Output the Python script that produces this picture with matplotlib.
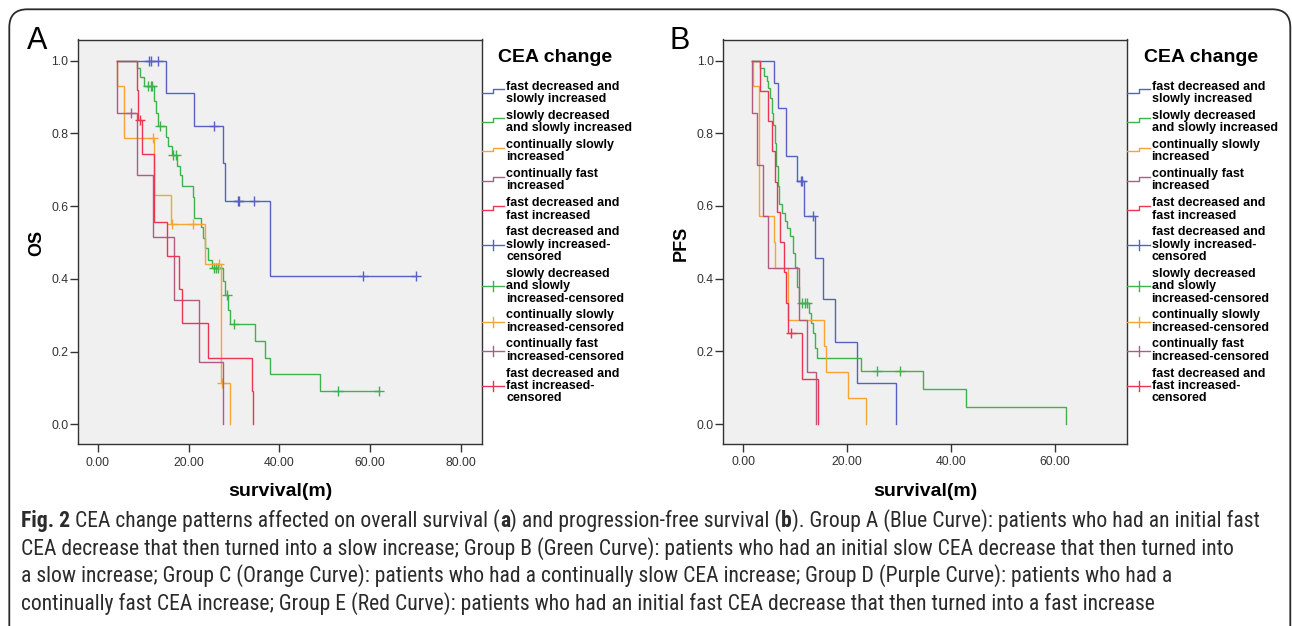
import numpy as np
import matplotlib
matplotlib.use('Agg')
import matplotlib.pyplot as plt
from matplotlib import font_manager
from matplotlib.lines import Line2D
from matplotlib.patches import FancyBboxPatch
from matplotlib.transforms import IdentityTransform

plt.rcParams['font.family'] = ['Liberation Sans', 'DejaVu Sans']

# ---------------- data ----------------
group_labels = [
    ["fast decreased and", "slowly increased"],
    ["slowly decreased", "and slowly increased"],
    ["continually slowly", "increased"],
    ["continually fast", "increased"],
    ["fast decreased and", "fast increased"],
]
censor_labels = [
    ["fast decreased and", "slowly increased-", "censored"],
    ["slowly decreased", "and slowly", "increased-censored"],
    ["continually slowly", "increased-censored"],
    ["continually fast", "increased-censored"],
    ["fast decreased and", "fast increased-", "censored"],
]
colors = ['#5661C2', '#3DB24F', '#F6A534', '#B25A80', '#EC3552']

x_ticks_os = [0, 20, 40, 60, 80]
x_ticks_pfs = [0, 20, 40, 60]
y_ticks = [0.0, 0.2, 0.4, 0.6, 0.8, 1.0]

# Panel A : OS  (start time, event times, survival after event, censored times)
os_start = [4.1, 4.1, 4.1, 4.1, 4.1]
os_blue_t = [15.1, 21.2, 27.5, 28.0, 37.9]
os_blue_s = [0.912, 0.820, 0.718, 0.615, 0.409]
os_blue_c = [11.3, 11.6, 13.3, 25.6, 30.9, 31.2, 34.3, 58.5, 70.2]

os_green_t = [8.7, 9.3, 10.2, 12.3, 12.8, 13.3, 14.9, 15.5, 16.4, 17.5, 18.1, 18.6,
              21.0, 21.2, 22.8, 23.2, 23.7, 24.3, 25.1, 27.5, 28.0, 28.7, 29.2,
              34.7, 36.9, 37.9, 48.9]
os_green_s = [0.979, 0.954, 0.929, 0.89, 0.855, 0.82, 0.791, 0.766, 0.74, 0.709, 0.686, 0.654,
              0.626, 0.566, 0.543, 0.511, 0.484, 0.452, 0.430, 0.393, 0.356, 0.314, 0.276,
              0.23, 0.183, 0.137, 0.092]
os_green_c = [11.1, 11.6, 11.9, 13.7, 16.6, 17.1, 25.6, 26.1, 26.5, 28.4, 30.0, 53.0, 62.0]

os_orange_t = [4.1, 5.7, 12.4, 16.1, 23.6, 27.2, 29.2]
os_orange_s = [0.929, 0.786, 0.631, 0.55, 0.441, 0.113, 0.0]
os_orange_c = [12.2, 16.3, 21.0, 26.6, 27.3]

os_purple_t = [4.1, 8.7, 12.2, 16.8, 22.3, 27.5]
os_purple_s = [0.857, 0.686, 0.514, 0.343, 0.171, 0.0]
os_purple_c = [7.2]

os_red_t = [8.7, 8.9, 9.8, 12.4, 15.3, 17.8, 18.6, 24.2, 33.9, 34.1]
os_red_s = [0.918, 0.837, 0.742, 0.555, 0.463, 0.371, 0.278, 0.183, 0.092, 0.0]
os_red_c = [9.3]

# Panel B : PFS
pfs_start = [1.7, 1.7, 1.7, 1.7, 1.7]
pfs_blue_t = [6.0, 6.6, 8.2, 8.3, 10.3, 11.7, 13.8, 15.3, 17.7, 21.9, 29.5]
pfs_blue_s = [0.938, 0.87, 0.801, 0.737, 0.668, 0.571, 0.456, 0.343, 0.227, 0.112, 0.0]
pfs_blue_c = [11.1, 11.3, 13.5]

pfs_green_t = [3.2, 4.0, 4.5, 4.8, 5.2, 5.5, 5.8, 6.1, 6.4, 6.7, 6.9, 7.4, 8.0, 8.5,
               9.0, 9.5, 10.0, 10.4, 10.8, 12.7, 13.0, 13.5, 13.9, 14.3, 22.7, 34.7,
               43.0, 62.1]
pfs_green_s = [0.98, 0.957, 0.943, 0.925, 0.897, 0.856, 0.824, 0.773, 0.709, 0.654, 0.604,
               0.580, 0.558, 0.539, 0.516, 0.470, 0.433, 0.378, 0.332, 0.305, 0.277, 0.25,
               0.209, 0.181, 0.146, 0.096, 0.048, 0.0]
pfs_green_c = [11.25, 11.9, 12.2, 25.7, 30.2]

pfs_orange_t = [1.9, 3.0, 5.9, 6.1, 8.7, 15.6, 15.9, 20.2, 23.6]
pfs_orange_s = [0.929, 0.571, 0.5, 0.429, 0.286, 0.214, 0.143, 0.071, 0.0]
pfs_orange_c = []

pfs_purple_t = [1.7, 2.7, 3.8, 4.8, 10.8, 12.2, 14.1]
pfs_purple_s = [0.857, 0.714, 0.571, 0.429, 0.286, 0.143, 0.0]
pfs_purple_c = []

pfs_red_t = [3.2, 4.8, 5.5, 6.2, 6.5, 7.0, 7.8, 8.3, 8.6, 11.4, 14.4]
pfs_red_s = [0.917, 0.833, 0.75, 0.667, 0.583, 0.5, 0.417, 0.333, 0.25, 0.125, 0.0]
pfs_red_c = [9.1]

caption_lines = [
    [("Fig. 2", True), (" CEA change patterns affected on overall survival (", False), ("a", True),
     (") and progression-free survival (", False), ("b", True),
     ("). Group A (Blue Curve): patients who had an initial fast", False)],
    [("CEA decrease that then turned into a slow increase; Group B (Green Curve): patients who had an initial slow CEA decrease that then turned into", False)],
    [("a slow increase; Group C (Orange Curve): patients who had a continually slow CEA increase; Group D (Purple Curve): patients who had a", False)],
    [("continually fast CEA increase; Group E (Red Curve): patients who had an initial fast CEA decrease that then turned into a fast increase", False)],
]

# ---------------- figure ----------------
W, H = 1292, 626
fig = plt.figure(figsize=(W / 100, H / 100), dpi=100)


def fx(x):
    return x / W


def fy(y):
    return 1 - y / H


# outer rounded frame
frame = FancyBboxPatch((9.3, -30), 1281.0, 626 - 9.3 + 30,
                       boxstyle='round,pad=0,rounding_size=18',
                       transform=IdentityTransform(), fill=False,
                       ec='#2a2a2a', lw=1.3)
fig.add_artist(frame)


def km(ax, start, t, s, cens, color, z):
    end = t[-1]
    if s[-1] > 0 and len(cens):
        end = max(end, max(cens))
    x = np.array([start] + list(t) + [end])
    y = np.array([1.0] + list(s) + [s[-1]])
    ax.plot(x, y, drawstyle='steps-post', color=color, lw=1.0, zorder=z,
            solid_joinstyle='miter')
    if len(cens):
        c = np.array(cens)
        idx = np.searchsorted(x, c, side='right') - 1
        ax.plot(c, y[idx], linestyle='none', marker='+', color=color,
                ms=6.5, mew=1.0, zorder=z)


def style_axes(ax, xlim, xticks):
    ax.set_facecolor('#F0F0F0')
    for sp in ax.spines.values():
        sp.set_color('#333333')
        sp.set_linewidth(1.0)
    ax.set_xlim(*xlim)
    ax.set_ylim(-0.055, 1.058)
    ax.set_xticks(xticks)
    ax.set_xticklabels(['%.2f' % v for v in xticks])
    ax.set_yticks(y_ticks)
    ax.set_yticklabels(['%.1f' % v for v in y_ticks])
    ax.tick_params(direction='out', length=5.8, width=1.0, color='#333333',
                   labelsize=8.7, labelcolor='#333333')
    ax.tick_params(axis='x', pad=3.0)
    ax.tick_params(axis='y', pad=1.0)


def legend(sx):
    fig.text(fx(sx + 16.3), fy(57), "CEA change", fontsize=14, fontweight='bold',
             va='center', ha='left', color='black')
    y = 86.7
    lh = 12.45
    gap = 4.2
    entries = [(lab, col, 'step') for lab, col in zip(group_labels, colors)] + \
              [(lab, col, 'cens') for lab, col in zip(censor_labels, colors)]
    for lab, col, kind in entries:
        n = len(lab)
        for k, line in enumerate(lab):
            fig.text(fx(sx + 24.3), fy(y + k * lh), line, fontsize=9, fontweight='bold',
                     va='center', ha='left', color='black')
        if kind == 'step':
            lo, hi = y + 6.6, y + 2.6
            fig.add_artist(Line2D([fx(sx), fx(sx + 11.3), fx(sx + 11.3), fx(sx + 22.3)],
                                  [fy(lo), fy(lo), fy(hi), fy(hi)],
                                  transform=fig.transFigure, color=col, lw=1.0))
        else:
            ym = y + (n - 1) * lh / 2
            fig.add_artist(Line2D([fx(sx), fx(sx + 22.3)], [fy(ym), fy(ym)],
                                  transform=fig.transFigure, color=col, lw=1.0))
            fig.add_artist(Line2D([fx(sx + 11.2), fx(sx + 11.2)], [fy(ym - 5), fy(ym + 5)],
                                  transform=fig.transFigure, color=col, lw=1.0))
        y += n * lh + gap


# Panel A
axA = fig.add_axes([fx(78), fy(444.3), (481.7 - 78) / W, (444.3 - 39.5) / H])
style_axes(axA, (-4.4, 84.6), x_ticks_os)
os_data = [(os_blue_t, os_blue_s, os_blue_c), (os_green_t, os_green_s, os_green_c),
           (os_orange_t, os_orange_s, os_orange_c), (os_purple_t, os_purple_s, os_purple_c),
           (os_red_t, os_red_s, os_red_c)]
for i, (t, s, c) in enumerate(os_data):
    km(axA, os_start[i], t, s, c, colors[i], 3 + i)

# Panel B
axB = fig.add_axes([fx(723.3), fy(444.0), (1127.3 - 723.3) / W, (444.0 - 39.5) / H])
style_axes(axB, (-3.85, 74.0), x_ticks_pfs)
pfs_data = [(pfs_blue_t, pfs_blue_s, pfs_blue_c), (pfs_green_t, pfs_green_s, pfs_green_c),
            (pfs_orange_t, pfs_orange_s, pfs_orange_c), (pfs_purple_t, pfs_purple_s, pfs_purple_c),
            (pfs_red_t, pfs_red_s, pfs_red_c)]
for i, (t, s, c) in enumerate(pfs_data):
    km(axB, pfs_start[i], t, s, c, colors[i], 3 + i)

legend(481.7)
legend(1127.3)

# axis labels
fig.text(fx(36.7), fy(243), "OS", rotation=90, fontsize=13, fontweight='bold',
         va='center', ha='center')
fig.text(fx(681.7), fy(243), "PFS", rotation=90, fontsize=13, fontweight='bold',
         va='center', ha='center')
fig.text(fx(280), fy(491.7), "survival(m)", fontsize=14, fontweight='bold',
         va='center', ha='center')
fig.text(fx(925.3), fy(491.7), "survival(m)", fontsize=14, fontweight='bold',
         va='center', ha='center')

# panel letters
fig.text(fx(27), fy(49), "A", fontsize=22, va='baseline', ha='left')
fig.text(fx(669), fy(49), "B", fontsize=22, va='baseline', ha='left')

# ---------------- caption ----------------
names = {f.name for f in font_manager.fontManager.ttflist}
cands = ['Roboto Condensed', 'Open Sans Condensed', 'Noto Sans Condensed',
         'Liberation Sans Narrow', 'DejaVu Sans Condensed', 'Noto Sans', 'Open Sans',
         'Roboto', 'Liberation Sans']
cap_font = next((c for c in cands if c in names), 'DejaVu Sans')

fig.canvas.draw()
renderer = fig.canvas.get_renderer()


def line_width(segs, size):
    total = 0.0
    tmp = []
    for txt, bold in segs:
        t = fig.text(0, 0, txt, fontsize=size, fontweight='bold' if bold else 'normal',
                     family=[cap_font, 'DejaVu Sans'], fontstretch='condensed')
        total += t.get_window_extent(renderer=renderer).width
        tmp.append(t)
    for t in tmp:
        t.remove()
    return total


base = 12.0
w0 = line_width(caption_lines[0], base)
cap_size = base * (1257 - 21) / w0
cap_y = [521, 548.5, 576, 603.5]
for segs, yy in zip(caption_lines, cap_y):
    x = 21.0
    for txt, bold in segs:
        t = fig.text(fx(x), fy(yy), txt, fontsize=cap_size,
                     fontweight='bold' if bold else 'normal',
                     family=[cap_font, 'DejaVu Sans'], fontstretch='condensed',
                     va='center', ha='left', color='#2b2b2b')
        x += t.get_window_extent(renderer=renderer).width

fig.savefig('out.png', dpi=100)
